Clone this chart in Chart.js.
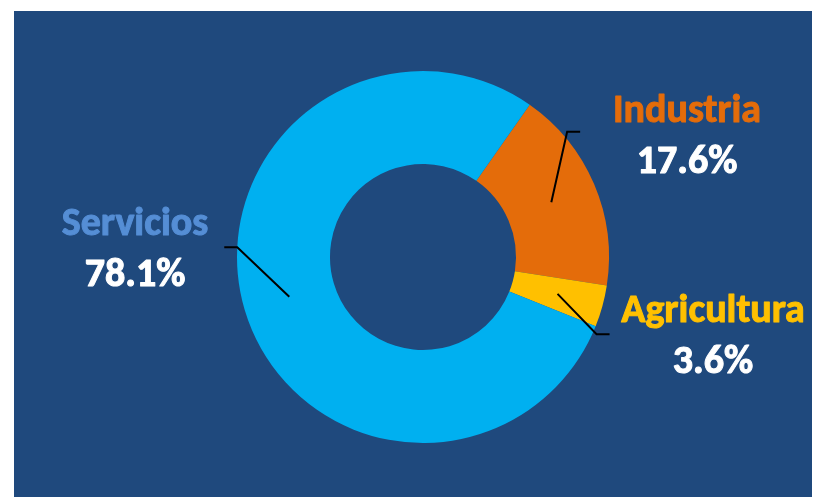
<!DOCTYPE html>
<html>
<head>
<meta charset="utf-8">
<script src="https://cdn.jsdelivr.net/npm/chart.js@4/dist/chart.umd.min.js"></script>
<style>
  html, body { margin: 0; padding: 0; background: #fff; }
  #box { position: absolute; left: 14px; top: 11px; width: 798px; height: 486px; background: #1F497D; }
</style>
</head>
<body>
<div id="box"><canvas id="donut" width="798" height="486"></canvas></div>
<script>
// Datos del gráfico
const sectores = ['Industria', 'Agricultura', 'Servicios'];
const porcentajes = [17.6, 3.6, 78.1];
const colores = ['#E46C0A', '#FFC000', '#00B0F0'];
const coloresEtiqueta = ['#E46C0A', '#FFC000', '#558ED5'];

// posición de etiquetas y quiebre de las líneas guía (solo diseño)
const etiquetas = [
    { x: 673, y: 111, codoAng: 49, codoR: 191, dir: 1 },
    { x: 699, y: 311, codoAng: 114, codoR: 190, dir: 1 },
    { x: 121, y: 224, codoAng: 273, codoR: 186, dir: -1 }
];

const pluginEtiquetas = {
    id: 'etiquetas',
    afterDatasetsDraw(chart) {
        const ctx = chart.ctx;
        const meta = chart.getDatasetMeta(0);
        meta.data.forEach((arc, i) => {
            const p = arc.getProps(['x', 'y', 'startAngle', 'endAngle', 'innerRadius', 'outerRadius'], true);
            const mid = (p.startAngle + p.endAngle) / 2;
            const rMid = (p.innerRadius + p.outerRadius) / 2;
            const e = etiquetas[i];
            const a = (e.codoAng - 90) * Math.PI / 180;
            const x0 = p.x + Math.cos(mid) * rMid, y0 = p.y + Math.sin(mid) * rMid;
            const x1 = p.x + Math.cos(a) * e.codoR, y1 = p.y + Math.sin(a) * e.codoR;
            ctx.save();
            ctx.strokeStyle = '#000';
            ctx.lineWidth = 2;
            ctx.beginPath();
            ctx.moveTo(x0, y0);
            ctx.lineTo(x1, y1);
            ctx.lineTo(x1 + 13 * e.dir, y1);
            ctx.stroke();

            // texto un poco más grueso para parecerse a Calibri negrita
            ctx.textAlign = 'center';
            ctx.textBaseline = 'alphabetic';
            ctx.font = 'bold 40px Carlito, Lato';
            ctx.lineWidth = 1;
            ctx.lineJoin = 'round';
            ctx.fillStyle = ctx.strokeStyle = coloresEtiqueta[i];
            ctx.fillText(sectores[i], e.x, e.y);
            ctx.strokeText(sectores[i], e.x, e.y);
            const pct = porcentajes[i].toFixed(1) + '%';
            ctx.fillStyle = ctx.strokeStyle = '#fff';
            ctx.fillText(pct, e.x, e.y + 51);
            ctx.strokeText(pct, e.x, e.y + 51);
            ctx.restore();
        });
    }
};

new Chart(document.getElementById('donut'), {
    type: 'doughnut',
    data: {
        labels: sectores,
        datasets: [{ data: porcentajes, backgroundColor: colores, borderWidth: 0 }]
    },
    options: {
        responsive: false,
        animation: false,
        rotation: 35,
        cutout: '50%',
        layout: { padding: { left: 223, right: 203, top: 60, bottom: 54 } },
        plugins: { legend: { display: false }, tooltip: { enabled: false } }
    },
    plugins: [pluginEtiquetas]
});
</script>
</body>
</html>
